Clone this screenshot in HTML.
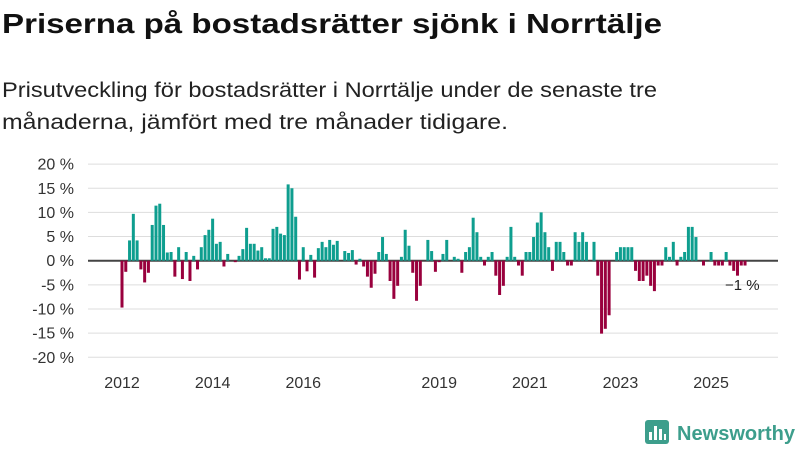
<!DOCTYPE html>
<html><head><meta charset="utf-8"><style>
body{margin:0;background:#fff;}
svg{display:block;font-family:"Liberation Sans","DejaVu Sans",sans-serif;}
</style></head><body>
<svg id="chart" width="800" height="450" viewBox="0 0 800 450">
<text x="2" y="33" font-size="28" font-weight="bold" fill="#111" textLength="660" lengthAdjust="spacingAndGlyphs">Priserna på bostadsrätter sjönk i Norrtälje</text>
<text x="2" y="97" font-size="21" fill="#222" textLength="655" lengthAdjust="spacingAndGlyphs">Prisutveckling för bostadsrätter i Norrtälje under de senaste tre</text>
<text x="2" y="129" font-size="21" fill="#222" textLength="506" lengthAdjust="spacingAndGlyphs">månaderna, jämfört med tre månader tidigare.</text>
<g id="grid"></g><g id="bars"></g><g id="xaxis"></g>
<text x="725" y="290" font-size="15" fill="#222">−1 %</text>
<g>
<rect x="645" y="420" width="24" height="24" rx="3" fill="#3d9e8c"/>
<rect x="649" y="432" width="3" height="8" fill="#fff"/><rect x="654" y="426" width="3" height="14" fill="#fff"/><rect x="659" y="429" width="3" height="11" fill="#fff"/><rect x="664" y="434" width="2" height="6" fill="#fff"/>
<text x="677" y="440" font-size="20" font-weight="bold" fill="#3d9e8c" textLength="118" lengthAdjust="spacingAndGlyphs">Newsworthy</text>
</g>
</svg>
<script>
const yTicks=[20,15,10,5,0,-5,-10,-15,-20];
const yTickLabels=["20 %","15 %","10 %","5 %","0 %","-5 %","-10 %","-15 %","-20 %"];
const xYears=[2012,2014,2016,2019,2021,2023,2025];
const startYear=2012;
const values=[-9.7,-2.3,4.2,9.7,4.2,-1.8,-4.5,-2.5,7.4,11.4,11.8,7.4,1.7,1.8,-3.3,2.8,-3.8,1.8,-4.2,1.0,-1.8,2.8,5.3,6.4,8.7,3.5,3.9,-1.2,1.4,0,-0.3,1.0,2.4,6.8,3.5,3.5,2.1,2.8,0.5,0.5,6.6,7.0,5.6,5.3,15.8,15.0,9.1,-3.9,2.8,-2.2,1.2,-3.5,2.6,3.9,2.8,4.3,
3.3,4.1,0,2.0,1.6,2.2,-0.8,0.4,-1.2,-3.3,-5.6,-2.7,1.8,4.9,1.4,-4.2,-7.9,-5.2,0.8,6.4,3.1,-2.5,-8.3,-5.2,0,4.3,2.0,-2.3,-0.3,1.4,4.3,0,0.8,0.4,-2.5,1.8,2.8,8.9,5.9,0.8,-1.0,0.8,1.8,-3.1,-7.1,-5.2,0.8,7.0,0.8,-1.0,-3.1,1.8,1.8,4.9,7.9,10.0,5.9,2.8,
-2.1,3.9,3.9,1.8,-1.0,-1.0,5.9,3.9,5.9,3.9,0,3.9,-3.1,-15.1,-14.1,-11.3,0,1.8,2.8,2.8,2.8,2.8,-2.1,-4.2,-4.2,-3.1,-5.2,-6.3,-1.0,-1.0,2.8,0.8,3.9,-1.0,0.8,1.8,7.0,7.0,4.9,0,-1.0,0,1.8,-1.0,-1.0,-1.0,1.8,-1.0,-2.1,-3.1,-1.0,-1.0];
const NS="http://www.w3.org/2000/svg";
const y=v=>260.7-v*4.83;
const x=i=>122+i*3.776;
function mk(t,a,p){const e=document.createElementNS(NS,t);for(const k in a)e.setAttribute(k,a[k]);p.appendChild(e);return e;}
const grid=document.getElementById('grid');
yTicks.forEach((v,i)=>{
 const l=mk('line',{x1:88,x2:778,y1:y(v),y2:y(v),stroke:v===0?'#444':'#ddd','stroke-width':v===0?2:1},grid);
 
 
 const t=mk('text',{x:74,y:y(v)+5.5,'font-size':16,fill:'#333','text-anchor':'end'},grid);
 t.textContent=yTickLabels[i];
 
 
});
const bars=document.getElementById('bars');
values.forEach((v,i)=>{
 const r=mk('rect',{x:x(i)-1.5,width:3,y:Math.min(y(v),y(0)),height:Math.abs(y(v)-y(0)),fill:v>=0?'#0e9e8f':'#99003d'},bars);
 
 
});
const xa=document.getElementById('xaxis');
xYears.forEach(yr=>{
 const t=mk('text',{x:x((yr-startYear)*12),y:388,'font-size':16,fill:'#333','text-anchor':'middle'},xa);
 t.textContent=yr;
 
 
});
</script>
</body></html>
